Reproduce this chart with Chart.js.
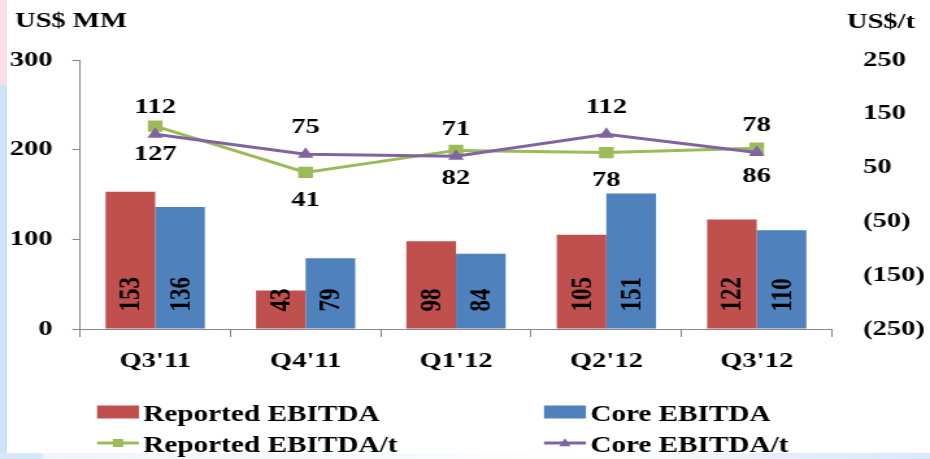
<!DOCTYPE html>
<html>
<head>
<meta charset="utf-8">
<script src="https://cdn.jsdelivr.net/npm/chart.js@4/dist/chart.umd.min.js"></script>
<style>
  html, body { margin: 0; padding: 0; background: #fff; }
  body { width: 930px; height: 459px; position: relative; overflow: hidden; }
  /* slide edge strips */
  .edge-pink { position: absolute; left: 0; top: 0; width: 7px; height: 85px; background: #fcdde3; }
  .edge-blue { position: absolute; left: 0; top: 85px; width: 7px; height: 368px; background: #cfe3f7; }
  .edge-bottom { position: absolute; left: 0; top: 453px; width: 930px; height: 6px;
    background: linear-gradient(90deg, #d6e7f8 0, #d6e7f8 40px, #eef5fc 45px, #f6fafe 400px, #ffffff 600px, #e4eefa 780px, #d9e8f8 930px); }
  /* the chart is laid out narrow and stretched sideways */
  #wrap { position: absolute; left: 0; top: 0; width: 716px; height: 459px;
    transform: scaleX(1.29888); transform-origin: 0 0; }
</style>
</head>
<body>
<div class="edge-pink"></div>
<div class="edge-blue"></div>
<div class="edge-bottom"></div>
<div id="wrap"><canvas id="chart" width="716" height="459"></canvas></div>

<script>
// ─── Data ───
const categories = ["Q3'11", "Q4'11", "Q1'12", "Q2'12", "Q3'12"];
const reportedEbitda = [153, 43, 98, 105, 122];
const coreEbitda = [136, 79, 84, 151, 110];
const reportedPerTonne = [127, 41, 82, 78, 86];
const corePerTonne = [112, 75, 71, 112, 78];
const leftTicks = [0, 100, 200, 300];
const rightTicks = [-250, -150, -50, 50, 150, 250];

const RED = '#C0504D', BLUE = '#4F81BD', GREEN = '#9BBB59', PURPLE = '#8064A2';
const AXIS = '#868686';
const FONT = '"Liberation Serif", "Times New Roman", serif';

// ─── Helpers ───
function fmtRight(v) { return v < 0 ? '(' + (-v) + ')' : String(v); }

function marker(ctx, style, x, y, size, color) {
  ctx.fillStyle = color;
  ctx.beginPath();
  if (style === 'rect') {
    ctx.rect(x - size / 2, y - size / 2, size, size);
  } else {
    ctx.moveTo(x, y - size * 0.6);
    ctx.lineTo(x + size * 0.55, y + size * 0.4);
    ctx.lineTo(x - size * 0.55, y + size * 0.4);
    ctx.closePath();
  }
  ctx.fill();
}

// ─── Value labels: rotated inside bars, above/below line points ───
const valueLabels = {
  id: 'valueLabels',
  afterDatasetsDraw(chart) {
    const ctx = chart.ctx;
    ctx.save();
    ctx.fillStyle = '#000';
    chart.data.datasets.forEach((ds, i) => {
      const meta = chart.getDatasetMeta(i);
      meta.data.forEach((el, j) => {
        const v = ds.data[j];
        if (ds.type === 'bar') {
          ctx.save();
          ctx.font = 'bold 23px ' + FONT;
          ctx.translate(el.x, el.base - 17);
          ctx.rotate(-Math.PI / 2);
          ctx.textAlign = 'left';
          ctx.textBaseline = 'middle';
          ctx.fillText(String(v), 0, 1);
          ctx.restore();
        } else {
          ctx.font = 'bold 22px ' + FONT;
          ctx.textAlign = 'center';
          ctx.textBaseline = 'middle';
          const dy = ds.labelSide === 'above' ? -27 : 28;
          ctx.fillText(String(v), el.x, el.y + dy);
        }
      });
    });
    ctx.restore();
  }
};

// ─── Unit captions and two-column legend ───
const captions = {
  id: 'captions',
  afterDraw(chart) {
    const ctx = chart.ctx;
    ctx.save();
    ctx.fillStyle = '#000';
    ctx.font = 'bold 22px ' + FONT;
    ctx.textBaseline = 'alphabetic';
    ctx.textAlign = 'left';
    ctx.fillText('US$ MM', 11.5, 27);
    ctx.fillText('US$/t', 652, 28);

    const cols = [74.7, 418.8];
    const rows = [412, 443];
    const boxW = 32.3;
    chart.data.datasets.forEach((ds, i) => {
      const x = cols[ds.legendCol];
      const y = rows[ds.legendRow];
      if (ds.type === 'bar') {
        ctx.fillStyle = ds.backgroundColor;
        ctx.fillRect(x, y - 6.5, boxW, 13);
      } else {
        ctx.strokeStyle = ds.borderColor;
        ctx.lineWidth = 3;
        ctx.beginPath();
        ctx.moveTo(x, y);
        ctx.lineTo(x + boxW, y);
        ctx.stroke();
        marker(ctx, ds.pointStyle, x + boxW / 2, y, 8, ds.borderColor);
      }
      ctx.fillStyle = '#000';
      ctx.font = 'bold 22.5px ' + FONT;
      ctx.fillText(ds.label, x + boxW + 3.3, y + 8.5);
    });
    ctx.restore();
  }
};

new Chart(document.getElementById('chart'), {
  data: {
    labels: categories,
    datasets: [
      {
        type: 'line', label: 'Core EBITDA/t', data: corePerTonne, yAxisID: 'y1',
        borderColor: PURPLE, backgroundColor: PURPLE, borderWidth: 3,
        pointStyle: 'triangle', pointRadius: 7, pointBorderWidth: 0, pointBackgroundColor: PURPLE,
        tension: 0, order: 0, labelSide: 'above', legendCol: 1, legendRow: 1
      },
      {
        type: 'line', label: 'Reported EBITDA/t', data: reportedPerTonne, yAxisID: 'y1',
        borderColor: GREEN, backgroundColor: GREEN, borderWidth: 3,
        pointStyle: 'rect', pointRadius: 8, pointBorderWidth: 0, pointBackgroundColor: GREEN,
        tension: 0, order: 1, labelSide: 'below', legendCol: 0, legendRow: 1
      },
      {
        type: 'bar', label: 'Reported EBITDA', data: reportedEbitda, yAxisID: 'y',
        backgroundColor: RED, borderWidth: 0, order: 2,
        categoryPercentage: 0.66, barPercentage: 1.0, legendCol: 0, legendRow: 0
      },
      {
        type: 'bar', label: 'Core EBITDA', data: coreEbitda, yAxisID: 'y',
        backgroundColor: BLUE, borderWidth: 0, order: 2,
        categoryPercentage: 0.66, barPercentage: 1.0, legendCol: 1, legendRow: 0
      }
    ]
  },
  options: {
    responsive: false,
    animation: false,
    layout: { padding: { top: 60, left: 0, right: 0, bottom: 0 } },
    plugins: { legend: { display: false }, tooltip: { enabled: false } },
    scales: {
      x: {
        position: 'bottom',
        offset: true,
        grid: { offset: true, drawOnChartArea: false, drawTicks: true, tickLength: 8, color: AXIS },
        border: { display: true, color: AXIS, width: 1 },
        ticks: { color: '#000', padding: 11, maxRotation: 0, font: { family: FONT, size: 22, weight: 'bold' } },
        afterFit(s) { s.height = 130; }
      },
      y: {
        position: 'left',
        min: 0, max: 300,
        afterBuildTicks(s) { s.ticks = leftTicks.map(v => ({ value: v })); },
        grid: { drawOnChartArea: false, drawTicks: true, tickLength: 6, color: AXIS },
        border: { display: true, color: AXIS, width: 1 },
        ticks: { color: '#000', padding: 15, font: { family: FONT, size: 22, weight: 'bold' } },
        afterFit(s) { s.width = 61.6; }
      },
      y1: {
        position: 'right',
        min: -250, max: 250,
        afterBuildTicks(s) { s.ticks = rightTicks.map(v => ({ value: v })); },
        grid: { display: false, drawOnChartArea: false, drawTicks: false },
        border: { display: false },
        ticks: { color: '#000', padding: 24, callback: v => fmtRight(v), font: { family: FONT, size: 22, weight: 'bold' } },
        afterFit(s) { s.width = 75.5; }
      }
    }
  },
  plugins: [valueLabels, captions]
});
</script>
</body>
</html>
